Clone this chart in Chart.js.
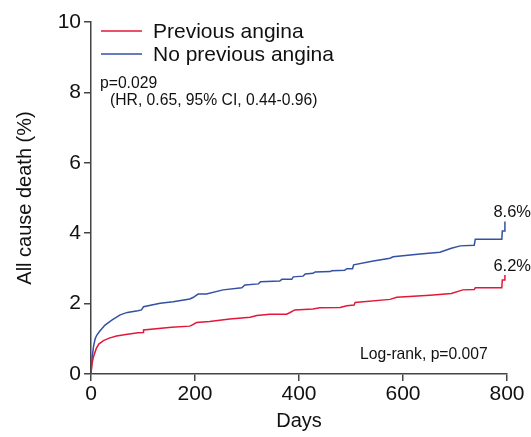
<!DOCTYPE html>
<html><head><meta charset="utf-8">
<script src="https://cdn.jsdelivr.net/npm/chart.js@4/dist/chart.umd.min.js"></script>
<style>html,body{margin:0;padding:0;background:#fff}#wrap{width:531px;height:437px}</style>
</head><body><div id="wrap"><canvas id="c" width="531" height="437"></canvas></div>
<script>
const xTicks = [0, 200, 400, 600, 800];
const yTicks = [0, 2, 4, 6, 8, 10];
const seriesNames = ['Previous angina', 'No previous angina'];
const endLabels = ['6.2%', '8.6%'];
const redDays = [0, 2, 5, 10, 15, 24, 35, 49, 70, 91, 100, 101, 155, 190, 194, 203, 228, 267, 306, 319, 344, 376, 382, 392, 427, 440, 479, 492, 506, 508, 575, 588, 652, 693, 715, 737, 739, 790, 791, 795, 796];
const redVals = [0, 0.3, 0.5, 0.72, 0.85, 0.95, 1.02, 1.08, 1.13, 1.17, 1.18, 1.25, 1.33, 1.36, 1.39, 1.46, 1.49, 1.56, 1.61, 1.66, 1.70, 1.70, 1.74, 1.82, 1.85, 1.88, 1.89, 1.94, 1.96, 2.03, 2.12, 2.18, 2.24, 2.29, 2.39, 2.40, 2.45, 2.45, 2.67, 2.67, 2.81];
const blueDays = [0, 2, 5, 8, 11, 17, 27, 40, 56, 70, 90, 97, 101, 133, 158, 190, 197, 206, 222, 254, 290, 296, 322, 326, 363, 367, 386, 389, 408, 412, 427, 431, 460, 463, 488, 492, 503, 505, 543, 575, 581, 633, 671, 693, 710, 737, 739, 790, 791, 795, 796];
const blueVals = [0, 0.45, 0.8, 1.0, 1.1, 1.22, 1.39, 1.53, 1.68, 1.75, 1.8, 1.82, 1.91, 2.01, 2.05, 2.13, 2.18, 2.27, 2.27, 2.39, 2.45, 2.53, 2.56, 2.62, 2.64, 2.69, 2.69, 2.76, 2.78, 2.84, 2.86, 2.90, 2.91, 2.93, 2.95, 2.99, 2.99, 3.10, 3.21, 3.29, 3.33, 3.41, 3.46, 3.57, 3.64, 3.66, 3.83, 3.83, 4.06, 4.06, 4.33];

const RED = '#e3173a', BLUE = '#3451a3', AX = '#444';
const FONT = '"Liberation Sans", Arial, sans-serif';
const toPts = (d, v) => d.map((x, i) => ({x, y: v[i]}));

const overlay = {
  id: 'overlay',
  afterDraw(chart) {
    const ctx = chart.ctx;
    ctx.save();
    const leg = [[RED, seriesNames[0], 31], [BLUE, seriesNames[1], 54]];
    ctx.font = '21px ' + FONT; ctx.textBaseline = 'middle'; ctx.textAlign = 'left';
    leg.forEach(([c, t, y]) => {
      ctx.strokeStyle = c; ctx.lineWidth = 1.5;
      ctx.beginPath(); ctx.moveTo(101, y); ctx.lineTo(142, y); ctx.stroke();
      ctx.fillStyle = '#111'; ctx.fillText(t, 153, y + 1);
    });
    ctx.font = '15.7px ' + FONT;
    ctx.fillText('p=0.029', 100, 84);
    ctx.fillText('(HR, 0.65, 95% CI, 0.44-0.96)', 110, 101);
    ctx.fillText('Log-rank, p=0.007', 360, 355);
    ctx.font = '16.5px ' + FONT; ctx.textAlign = 'right';
    ctx.fillText(endLabels[1], 531, 212);
    ctx.fillText(endLabels[0], 531, 266);
    ctx.restore();
  }
};

new Chart(document.getElementById('c'), {
  type: 'line',
  data: { datasets: [
    { label: seriesNames[0], data: toPts(redDays, redVals), borderColor: RED, borderWidth: 1.5, pointRadius: 0, fill: false, tension: 0 },
    { label: seriesNames[1], data: toPts(blueDays, blueVals), borderColor: BLUE, borderWidth: 1.5, pointRadius: 0, fill: false, tension: 0 }
  ]},
  options: {
    responsive: false, animation: false, devicePixelRatio: 1,
    layout: { padding: { top: 22, right: 24, left: 9, bottom: 0 } },
    plugins: { legend: { display: false }, tooltip: { enabled: false } },
    scales: {
      x: {
        type: 'linear', min: 0, max: 800,
        afterBuildTicks: s => { s.ticks = xTicks.map(v => ({value: v})); },
        afterFit: s => { s.height = 63; },
        grid: { drawOnChartArea: false, drawTicks: true, tickLength: 7, color: AX, lineWidth: 1.5 },
        border: { color: AX, width: 1.5 },
        ticks: { color: '#111', font: { size: 21, family: FONT }, padding: 1, maxRotation: 0 },
        title: { display: true, text: 'Days', color: '#111', font: { size: 20, family: FONT }, padding: { top: 0 } }
      },
      y: {
        min: 0, max: 10,
        afterBuildTicks: s => { s.ticks = yTicks.map(v => ({value: v})); },
        afterFit: s => { s.width = 82; },
        grid: { drawOnChartArea: false, drawTicks: true, tickLength: 7, color: AX, lineWidth: 1.5 },
        border: { color: AX, width: 1.5 },
        ticks: { color: '#111', font: { size: 21, family: FONT }, padding: 3 },
        title: { display: true, text: 'All cause death (%)', color: '#111', font: { size: 20, family: FONT }, padding: { bottom: 4 } }
      }
    }
  },
  plugins: [overlay]
});
</script></body></html>
